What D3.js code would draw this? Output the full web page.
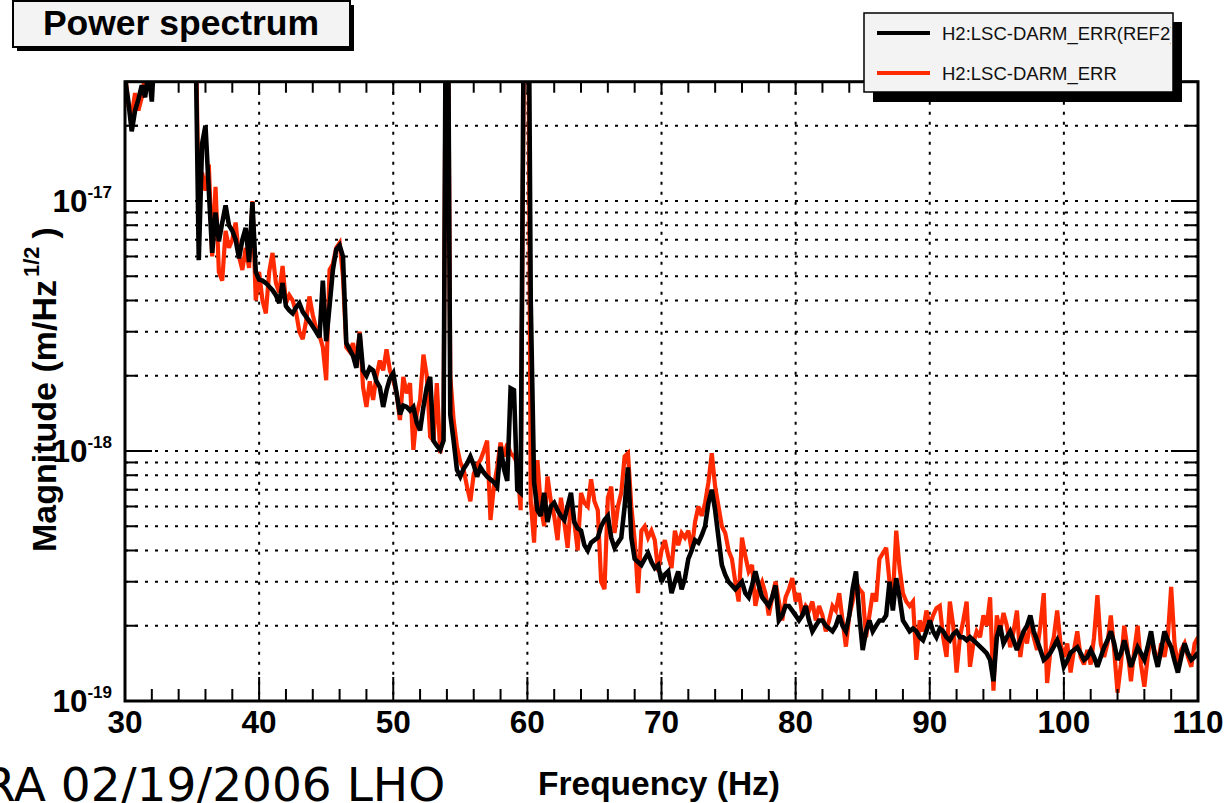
<!DOCTYPE html>
<html><head><meta charset="utf-8">
<script src="https://cdn.jsdelivr.net/npm/d3@7"></script>
<style>body{margin:0;background:#fff}svg{display:block}</style>
</head><body><svg id="c" width="1231" height="803"></svg>
<script>
// Values in units of 1e-20 m/Hz^1/2, sampled every 0.25 Hz from 30 Hz to 110 Hz
const UNIT = 1e-20;
const F_START = 30, F_STEP = 0.25;

// Black: H2:LSC-DARM_ERR(REF2)
const refValues = [
  3100,2500,1900,2300, 2550,2900,2600,3300, 2500,4500,6000,5500, 7000,6500,8000,7500,
  9000,8500,9500,8000, 7000,5000,580,1700, 2000,1100,620,900, 690,820,960,800,
  760,700,590,700, 780,570,990,520, 485,480,470,455, 440,420,390,470,
  380,365,355,375, 390,360,345,330, 315,300,285,480, 275,380,530,640,
  665,600,270,255, 240,215,295,210, 200,215,210,190, 180,150,175,195,
  205,170,140,152, 150,145,150,130, 121,150,180,198, 110,105,101,110,
  50000,140,110,84, 79,85,89,95, 88,79,86,82, 79,77,75,72,
  104,85,76,178, 175,70,68,8000, 50000,400,75,58, 55,68,52,60,
  62,58,55,53, 60,68,52,49, 48,42,40,43, 44,45,50,53,
  55,45,41,43, 45,60,86,45, 37,36,35,37, 39,36,34,35,
  30,32,33,27, 30,33,28,31, 37,40,44,43, 46,50,62,70,
  58,45,35,32, 30,29,28,29, 30,27,26,29, 33,29,26,25,
  24,26,29,21, 22,24,24,23, 22,21,22,24, 21,19,20,21,
  21,20,19.5,19, 20,22,20,19, 22,28,33,22, 16,19,21,19,
  20,21,21,22, 30,23,31,26, 21,20,19,19.5, 19,18,17.5,19,
  21,19,18,19.5, 19,18,17.5,18.5, 19,18,18,17.5, 18,17.5,17,16.5,
  16,15.5,14.6,12, 18,20,17,18, 19,17.5,16,17.5, 19,20,22,19,
  17.5,16,14.6,15, 15.6,16.5,17.5,16, 13.7,14.5,15.6,16, 16.4,15.5,14.6,15,
  16,15,13.7,15, 16.4,17.5,19,17, 14.6,15.5,17.5,15.5, 13.7,15,16.4,15.5,
  14.6,16.5,19,15.5, 13.7,16,19,17.5, 16.4,14.5,13,15, 17,15.5,14.6,15,
  15.6
];

// Red: H2:LSC-DARM_ERR
const liveValues = [
  3300,2400,2200,2700, 2300,2600,3200,2800, 3000,5000,7000,6000, 8000,7000,9000,8500,
  10000,9000,11000,9000, 8000,6000,900,1300, 1100,1400,600,1140, 520,480,760,650,
  700,820,600,530, 650,540,1000,400, 520,400,355,520, 620,470,430,550,
  390,420,400,360, 300,280,330,415, 350,310,290,260, 192,530,560,650,
  680,500,260,250, 270,230,300,180, 150,190,160,200, 230,210,255,210,
  192,170,133,198, 170,187,101,140, 160,243,200,114, 110,187,98,120,
  40000,200,133,104, 90,84,72,63, 81,88,92,100, 110,53,72,86,
  108,95,107,98, 95,89,58,5000, 40000,63,43,92, 60,50,79,63,
  55,44,65,52, 41,63,52,40, 68,62,60,77, 63,58,30,28,
  65,72,47,60, 68,95,98,60, 44,27,48,50, 45,48,44,33,
  40,44,38,34, 48,42,47,45, 48,40,52,60, 55,62,75,98,
  72,60,50,47, 40,37,30,25, 45,38,33,35, 24,28,30,27,
  22,26,30,25, 21,26,28,31, 25,27,22,24, 23,25,21,24,
  22,19,21,24, 23,27,21,16.5, 22,25,30,28, 27,18,22,27,
  25,37,39,41, 30,26,48,34, 27,25,24,25, 14.6,21,19,23,
  20,22,23.5,24, 18,15,25,20, 13,18,21,25, 13.7,17,19,18,
  22,20,26,11, 22,19,22.5,20, 16.4,19,23,15, 19,17,21,18,
  16,20,27,11.8, 16,18,23,17, 15,17,13,16, 19,15,14,16,
  14,18,26.5,17, 15,17,22,16, 10.8,14,20,16, 12,16,20,14,
  11.4,15,18,16, 14,17,15,18, 28.6,17,13.7,16, 17,15,13.7,17,
  18
];

const seriesNames = ["H2:LSC-DARM_ERR(REF2)", "H2:LSC-DARM_ERR"];
const seriesColors = ["#000000", "#ff2a00"];
const xTickLabels = [30, 40, 50, 60, 70, 80, 90, 100, 110];
const yDecades = [-19, -18, -17];
const titleText = "Power spectrum";
const xLabel = "Frequency (Hz)";
const footerText = "RA 02/19/2006 LHO";

const svg = d3.select("#c");
const L = 125, R = 1198, B = 701;
const yMin = 1e-19, yMax = 3e-17;
const x = d3.scaleLinear().domain([30, 110]).range([L, R]);
const y = d3.scaleLog().domain([yMin, yMax]).range([B, B - 250 * Math.log10(yMax / yMin)]);
const T = y(yMax);

const toPts = vals => vals.map((v, i) => ({f: F_START + i * F_STEP, v: v * UNIT}));
const refPts = toPts(refValues), livePts = toPts(liveValues);

svg.append("defs").append("clipPath").attr("id", "plotclip")
  .append("rect").attr("x", L).attr("y", T).attr("width", R - L).attr("height", B - T);

// grid
const yGrid = [];
yDecades.forEach(k => { for (let m = 1; m <= 9; m++) { const v = m * Math.pow(10, k); if (v > yMin * 1.001 && v < yMax * 0.999) yGrid.push(v); } });
const grid = svg.append("g").attr("stroke", "#000").attr("stroke-width", 2).attr("stroke-dasharray", "3,7");
grid.selectAll(".hg").data(yGrid).join("line")
  .attr("x1", L).attr("x2", R).attr("y1", d => y(d)).attr("y2", d => y(d));
grid.selectAll(".vg").data(xTickLabels.slice(1, -1)).join("line")
  .attr("y1", T).attr("y2", B).attr("x1", d => x(d)).attr("x2", d => x(d));

// curves
const line = d3.line().x(d => x(d.f)).y(d => y(d.v)).curve(d3.curveLinear);
const cg = svg.append("g").attr("clip-path", "url(#plotclip)");
cg.append("path").datum(livePts).attr("d", line).attr("fill", "none")
  .attr("stroke", seriesColors[1]).attr("stroke-width", 4.2).attr("stroke-linejoin", "miter").attr("stroke-miterlimit", 3);
cg.append("path").datum(refPts).attr("d", line).attr("fill", "none")
  .attr("stroke", seriesColors[0]).attr("stroke-width", 4.6).attr("stroke-linejoin", "miter").attr("stroke-miterlimit", 3);

// ticks
const tk = svg.append("g").attr("stroke", "#000").attr("stroke-width", 2);
const xMinor = d3.range(30, 110.01, 2);
xMinor.forEach(f => {
  const major = Math.abs(f % 10) < 1e-6;
  tk.append("line").attr("x1", x(f)).attr("x2", x(f)).attr("y1", B).attr("y2", B - (major ? 24 : 12));
  tk.append("line").attr("x1", x(f)).attr("x2", x(f)).attr("y1", T).attr("y2", T + (major ? 13 : 11));
});
const yAll = [];
yDecades.forEach(k => { for (let m = 1; m <= 9; m++) { const v = m * Math.pow(10, k); if (v >= yMin * 0.999 && v <= yMax * 1.001) yAll.push({v, major: m === 1}); } });
yAll.forEach(d => {
  tk.append("line").attr("x1", L).attr("x2", L + (d.major ? 27 : 13)).attr("y1", y(d.v)).attr("y2", y(d.v));
  tk.append("line").attr("x1", R).attr("x2", R - (d.major ? 27 : 14)).attr("y1", y(d.v)).attr("y2", y(d.v));
});

// frame
svg.append("rect").attr("x", L).attr("y", T).attr("width", R - L).attr("height", B - T)
  .attr("fill", "none").attr("stroke", "#000").attr("stroke-width", 3);

// x tick labels
svg.append("g").selectAll("text").data(xTickLabels).join("text")
  .attr("x", d => x(d)).attr("y", 733).attr("text-anchor", "middle")
  .attr("font-family", "Liberation Sans, Arial, sans-serif").attr("font-weight", "bold").attr("font-size", 31.5)
  .text(d => d);

// y tick labels
yDecades.forEach(k => {
  const t = svg.append("text").attr("x", 112).attr("y", y(Math.pow(10, k)) + 11).attr("text-anchor", "end")
    .attr("font-family", "Liberation Sans, Arial, sans-serif").attr("font-weight", "bold");
  t.append("tspan").attr("font-size", 31.5).text("10");
  t.append("tspan").attr("font-size", 17).attr("dy", -14).text(String(k));
});

// axis titles
svg.append("text").attr("x", 780).attr("y", 795).attr("text-anchor", "end")
  .attr("font-family", "Liberation Sans, Arial, sans-serif").attr("font-weight", "bold").attr("font-size", 33.5)
  .text(xLabel);
const yl = svg.append("text").attr("transform", "translate(56,552) rotate(-90)")
  .attr("font-family", "Liberation Sans, Arial, sans-serif").attr("font-weight", "bold").attr("font-size", 34);
yl.append("tspan").text("Magnitude (m/Hz");
yl.append("tspan").attr("font-size", 22).attr("dx", 3).attr("dy", -17).text("1/2");
yl.append("tspan").attr("dx", 8).attr("dy", 17).text(")");

// title box
svg.append("rect").attr("x", 17).attr("y", 5).attr("width", 337).attr("height", 46).attr("fill", "#000");
svg.append("rect").attr("x", 13).attr("y", 1).attr("width", 337).attr("height", 46)
  .attr("fill", "#f3f3f3").attr("stroke", "#000").attr("stroke-width", 2);
svg.append("text").attr("x", 181).attr("y", 35).attr("text-anchor", "middle")
  .attr("font-family", "Liberation Sans, Arial, sans-serif").attr("font-weight", "bold").attr("font-size", 35.5)
  .text(titleText);

// legend
const lg = svg.append("g");
lg.append("rect").attr("x", 873).attr("y", 22).attr("width", 309).attr("height", 80).attr("fill", "#000");
lg.append("rect").attr("x", 864).attr("y", 13).attr("width", 309).attr("height", 79)
  .attr("fill", "#f3f3f3").attr("stroke", "#000").attr("stroke-width", 1.5);
svg.select("defs").append("clipPath").attr("id", "legclip")
  .append("rect").attr("x", 864).attr("y", 13).attr("width", 307).attr("height", 79);
const legRows = [33, 73];
seriesNames.forEach((name, i) => {
  lg.append("line").attr("x1", 877).attr("x2", 930).attr("y1", legRows[i]).attr("y2", legRows[i])
    .attr("stroke", seriesColors[i]).attr("stroke-width", 4);
  lg.append("text").attr("x", 942).attr("y", legRows[i] + 7).attr("clip-path", "url(#legclip)")
    .attr("font-family", "Liberation Sans, Arial, sans-serif").attr("font-size", 18.5).attr("fill", "#111")
    .text(name);
});

// footer text (cut at the left edge, as in the original)
svg.append("text").attr("x", -17).attr("y", 801)
  .attr("font-family", "DejaVu Sans, sans-serif").attr("font-size", 47).attr("fill", "#000")
  .text(footerText);
</script>
</body></html>
